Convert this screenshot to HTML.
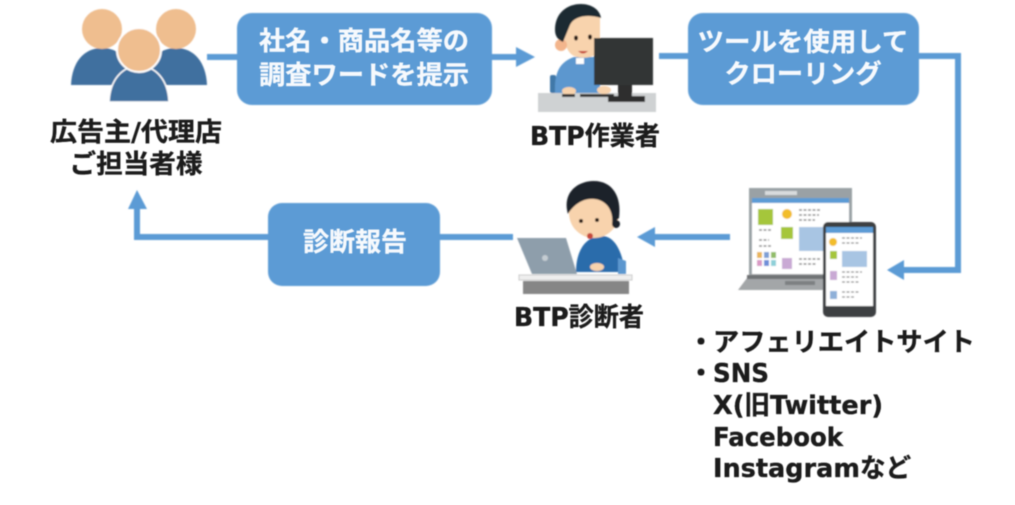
<!DOCTYPE html>
<html lang="ja">
<head>
<meta charset="utf-8">
<title>診断フロー</title>
<style>
html,body{margin:0;padding:0;background:#fff;width:1015px;height:505px;overflow:hidden}
svg{display:block}
text{font-family:"DejaVu Sans","Noto Sans CJK JP",sans-serif;font-weight:700;font-size:26px;stroke-width:.35px}
.w{fill:#f6f9fd;stroke:#f6f9fd}
.k{fill:#1c1c1c;stroke:#1c1c1c}
</style>
</head>
<body>
<svg width="1015" height="505" viewBox="0 0 1015 505" xmlns="http://www.w3.org/2000/svg">
<defs>
<filter id="b" x="-5%" y="-5%" width="110%" height="110%"><feGaussianBlur stdDeviation="0.8"/></filter>
<filter id="t" x="-5%" y="-20%" width="110%" height="140%"><feGaussianBlur stdDeviation="0.55"/></filter>
</defs>

<g filter="url(#b)">
<!-- connectors -->
<g fill="none" stroke="#5b9bd5" stroke-width="6">
<path d="M207 57H240"/>
<path d="M490 57H518"/>
<path d="M659 56H690"/>
<path d="M917 56H958V270H902"/>
<path d="M730 237H652"/>
<path d="M438 237H513"/>
<path d="M270 237H137V207"/>
</g>
<g fill="#5b9bd5">
<path d="M535 57L516 47V67Z"/>
<path d="M887 270L904 260V280Z"/>
<path d="M637 237L655 227V247Z"/>
<path d="M137 190L128 209H147Z"/>
<rect x="237" y="13" width="255" height="92" rx="15"/>
<rect x="688" y="13" width="231" height="92" rx="15"/>
<rect x="268" y="203" width="172" height="83" rx="14"/>
</g>

<!-- people -->
<path d="M71 85C72 62 84 48 102 48C120 48 134 62 135 85Z" fill="#40709f"/>
<path d="M143 85C144 62 158 48 176 48C194 48 206 62 207 85Z" fill="#40709f"/>
<circle cx="102" cy="29" r="20" fill="#efbe8f"/>
<circle cx="176" cy="29" r="20" fill="#efbe8f"/>
<path d="M109 102C110 80 122 66 139 66C156 66 168 80 169 102Z" fill="#40709f" stroke="#fff" stroke-width="1.5"/>
<circle cx="139" cy="50" r="22" fill="#efbe8f" stroke="#fff" stroke-width="2"/>

<!-- worker -->
<rect x="538" y="93" width="118" height="19" fill="#cfd2d3"/>
<rect x="550" y="75" width="6" height="18" rx="2" fill="#3f78a8"/>
<path d="M555 93C554 72 560 62 574 57L600 57V93Z" fill="#5b97cf"/>
<path d="M563 14H600V50C596 57 584 60 574 56C566 52 562 40 563 14Z" fill="#f8d3ad"/>
<circle cx="561" cy="45" r="6" fill="#f3b58c"/>
<path d="M555 30C555 13 567 4 581 4C592 4 600 10 601 18C588 14 574 16 570 25L563 42C558 40 555 36 555 30Z" fill="#1e2a33"/>
<ellipse cx="576" cy="38" rx="2" ry="2.6" fill="#2a1d14"/>
<ellipse cx="590" cy="37" rx="2" ry="2.6" fill="#2a1d14"/>
<path d="M578 51Q583 56 588 51Z" fill="#c5473a"/>
<rect x="576" y="58" width="8" height="6" fill="#fff"/>
<ellipse cx="569" cy="91" rx="7" ry="4" fill="#f8d3ad"/>
<ellipse cx="604" cy="90" rx="7" ry="4" fill="#f8d3ad"/>
<rect x="562" y="94" width="13" height="3" fill="#333"/>
<rect x="580" y="94" width="34" height="3" fill="#333"/>
<rect x="594" y="38" width="59" height="47" fill="#333536"/>
<rect x="618" y="85" width="14" height="11" fill="#2d2e2f"/>
<rect x="608" y="96" width="37" height="6" fill="#2d2e2f"/>

<!-- analyst -->
<path d="M576 272C576 250 586 236 602 236C614 236 622 250 625 272Z" fill="#2a6cab"/>
<path d="M618 258L626 261V274H618Z" fill="#5b97cf"/>
<circle cx="594" cy="213" r="25" fill="#f8d3ad"/>
<path d="M568 214C562 192 578 181 594 181C612 181 622 196 619 218L612 225C614 210 606 200 594 199C584 198 574 204 568 214Z" fill="#1c2229"/>
<circle cx="616" cy="224" r="4" fill="#1c2229"/>
<circle cx="581" cy="221" r="2" fill="#2a1d14"/>
<circle cx="597" cy="220" r="2" fill="#2a1d14"/>
<ellipse cx="590" cy="236" rx="3" ry="3" fill="#c5473a"/>
<ellipse cx="597" cy="267" rx="7" ry="4" fill="#f8d3ad"/>
<path d="M517 238H566L577 274H532Z" fill="#8e9eab"/>
<circle cx="545" cy="258" r="3" fill="#c4ccd2"/>
<rect x="519" y="275" width="113" height="5" fill="#eee" stroke="#ccc" stroke-width="1"/>
<rect x="523" y="281" width="106" height="13" fill="#868686"/>

<!-- laptop -->
<rect x="749" y="188" width="103" height="88" fill="#9aa1a5"/>
<rect x="752" y="198" width="97" height="78" fill="#fff"/>
<rect x="752" y="198" width="97" height="5" fill="#5b9bd5"/>
<rect x="765" y="191" width="32" height="4" fill="#d8dbdd"/>
<path d="M750 274H830V290H738Z" fill="#a3a6a8"/>
<rect x="747" y="275" width="85" height="4" fill="#6f7274"/>
<rect x="785" y="281" width="30" height="4" fill="#7d8082"/>
<rect x="758" y="209" width="15" height="16" fill="#a5c63b"/>
<rect x="781" y="227" width="12" height="12" fill="#a5c63b"/>
<circle cx="787" cy="214" r="5" fill="#f2bd2c"/>
<rect x="799" y="227" width="26" height="24" fill="#a8c5e3"/>
<rect x="782" y="258" width="10" height="11" fill="#c9a9d4"/>
<rect x="757" y="252" width="5" height="6" fill="#e9b65c"/>
<rect x="764" y="252" width="5" height="6" fill="#7d9fd5"/>
<rect x="771" y="252" width="5" height="6" fill="#91bd68"/>
<rect x="757" y="260" width="5" height="6" fill="#d99ac5"/>
<rect x="764" y="260" width="5" height="6" fill="#6e8fd8"/>
<rect x="771" y="260" width="5" height="6" fill="#8ed0d8"/>
<path d="M799 210h22M799 215h20M799 220h16M759 230h12M759 240h10M759 246h12M799 259h22M799 264h18" stroke="#888" stroke-width="1.4" fill="none" stroke-dasharray="3 1.5"/>

<!-- phone -->
<rect x="823" y="222" width="53" height="95" rx="5" fill="#3c3f42"/>
<rect x="826" y="227" width="47" height="79" fill="#fff"/>
<rect x="826" y="227" width="47" height="6" fill="#5b9bd5"/>
<circle cx="833" cy="242" r="4" fill="#f2bd2c"/>
<rect x="830" y="251" width="7" height="8" fill="#a5c63b"/>
<rect x="842" y="251" width="25" height="16" fill="#a8c5e3"/>
<rect x="830" y="271" width="7" height="9" fill="#c9a9d4"/>
<rect x="830" y="291" width="7" height="8" fill="#8fb0d8"/>
<path d="M842 238h20M842 243h18M842 272h20M842 277h16M842 282h18M842 292h18M842 297h12" stroke="#888" stroke-width="1.3" fill="none" stroke-dasharray="3 1.5"/>
</g>

<g filter="url(#t)">
<text class="w" x="364" y="50" text-anchor="middle" textLength="210" lengthAdjust="spacingAndGlyphs">社名・商品名等の</text>
<text class="w" x="364" y="84" text-anchor="middle" textLength="210" lengthAdjust="spacingAndGlyphs">調査ワードを提示</text>
<text class="w" x="803" y="51" text-anchor="middle" textLength="211" lengthAdjust="spacingAndGlyphs">ツールを使用して</text>
<text class="w" x="803" y="83" text-anchor="middle" textLength="157" lengthAdjust="spacingAndGlyphs">クローリング</text>
<text class="w" x="355" y="251" text-anchor="middle" textLength="104" lengthAdjust="spacingAndGlyphs">診断報告</text>

<text class="k" x="136" y="141" text-anchor="middle" textLength="172" lengthAdjust="spacingAndGlyphs">広告主/代理店</text>
<text class="k" x="136" y="173" text-anchor="middle" textLength="133" lengthAdjust="spacingAndGlyphs">ご担当者様</text>
<text class="k" x="595" y="145" text-anchor="middle" textLength="130" lengthAdjust="spacingAndGlyphs">BTP作業者</text>
<text class="k" x="579" y="326" text-anchor="middle" textLength="130" lengthAdjust="spacingAndGlyphs">BTP診断者</text>

<text class="k" x="688" y="351">・</text>
<text class="k" x="713" y="351" textLength="262" lengthAdjust="spacingAndGlyphs">アフェリエイトサイト</text>
<text class="k" x="688" y="382">・</text>
<text class="k" x="713" y="382" textLength="56" lengthAdjust="spacingAndGlyphs">SNS</text>
<text class="k" x="713" y="414" textLength="170" lengthAdjust="spacingAndGlyphs">X(旧Twitter)</text>
<text class="k" x="713" y="446" textLength="130" lengthAdjust="spacingAndGlyphs">Facebook</text>
<text class="k" x="713" y="477" textLength="198" lengthAdjust="spacingAndGlyphs">Instagramなど</text>
</g>
</svg>
</body>
</html>
